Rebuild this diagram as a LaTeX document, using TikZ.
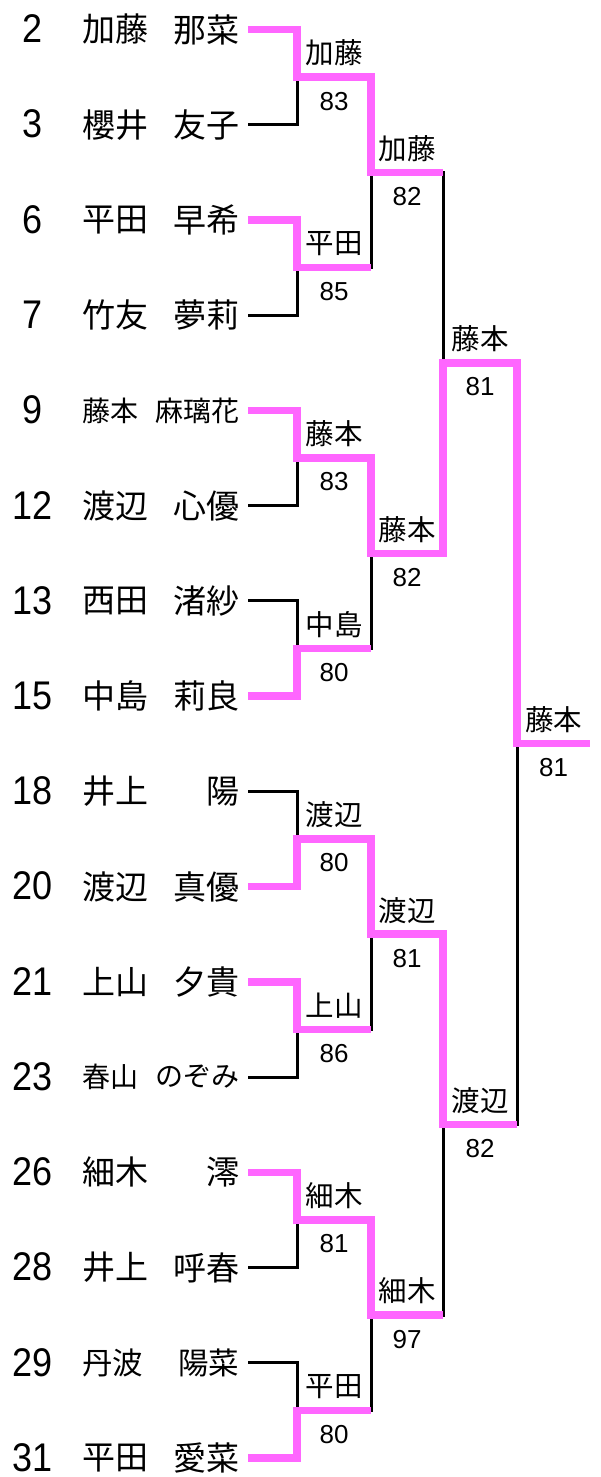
\documentclass[tikz,border=0pt]{standalone}
\usepackage{fontspec}
\setmainfont{Liberation Sans}
\newfontfamily\jpfont{Noto Sans CJK JP}
\definecolor{winpink}{RGB}{255,102,255}

\begin{document}
\begin{tikzpicture}
  [x=1pt,y=-1pt,
   num/.style={font=\fontsize{40}{40}\selectfont,inner sep=0},
   nm/.style={font=\jpfont\fontsize{33}{33}\selectfont,inner sep=0},
   sm/.style={font=\jpfont\fontsize{28}{28}\selectfont,inner sep=0},
   md/.style={font=\jpfont\fontsize{30.5}{30.5}\selectfont,inner sep=0},
   win/.style={font=\jpfont\fontsize{28.5}{28.5}\selectfont,inner sep=0},
   score/.style={font=\fontsize{26}{26}\selectfont,inner sep=0},
   lose/.style={line width=3pt,black},
   wins/.style={line width=7.5pt,winpink,line join=miter}]
  \useasboundingbox (0,0) rectangle (600,1477);
  % players
  \foreach \no/\sei/\mei/\st [count=\i] in {2/加藤/那菜/nm, 3/櫻井/友子/nm,
      6/平田/早希/nm, 7/竹友/夢莉/nm, 9/藤本/麻璃花/sm, 12/渡辺/心優/nm,
      13/西田/渚紗/nm, 15/中島/莉良/nm, 18/井上/陽/nm, 20/渡辺/真優/nm,
      21/上山/夕貴/nm, 23/春山/のぞみ/sm, 26/細木/澪/nm, 28/井上/呼春/nm,
      29/丹波/陽菜/md, 31/平田/愛菜/nm}{
    \pgfmathsetmacro\y{29.5+95.23*(\i-1)}
    \coordinate (p\i) at (248,\y);
    \node[num] (no\i) at (33,\y-0.5) {\scalebox{0.9}[1]{\no}};
    \node[\st,anchor=west] (sei\i) at (82,\y) {\sei};
    \node[\st,anchor=east] (mei\i) at (239.5,\y) {\mei};
  }
  % match points
  \foreach \m in {1,...,8} \coordinate (a\m) at (297,{29.5+95.23*(2*\m-1.5)});
  \foreach \m in {1,...,4} \coordinate (b\m) at (371,{29.5+95.23*(4*\m-2.5)});
  \foreach \m in {1,2} \coordinate (c\m) at (443,{29.5+95.23*(8*\m-4.5)});
  \coordinate (f) at (517,{29.5+95.23*7.5});
  \coordinate (champ) at (590,{29.5+95.23*7.5});
  % tree
  \foreach \i [evaluate=\i as \m using {int((\i+1)/2)}] in {1,...,16}
    \draw[lose] (p\i) -| (a\m);
  \foreach \m [evaluate=\m as \n using {int((\m+1)/2)}] in {1,...,8}
    \draw[lose] (a\m) -| (b\n);
  \foreach \n [evaluate=\n as \j using {int((\n+1)/2)}] in {1,...,4}
    \draw[lose] (b\n) -| (c\j);
  \draw[lose] (c1) -| (f) (c2) -| (f);
  % winners
  \draw[wins] (p1) -| (a1) -| (b1) -- (b1 -| c1);
  \draw[wins] (p3) -| (a2) -- (a2 -| b1);
  \draw[wins] (p5) -| (a3) -| (b2) -| (c1) -| (f) -- (champ);
  \draw[wins] (p8) -| (a4) -- (a4 -| b2);
  \draw[wins] (p10) -| (a5) -| (b3) -| (c2) -- (c2 -| f);
  \draw[wins] (p11) -| (a6) -- (a6 -| b3);
  \draw[wins] (p13) -| (a7) -| (b4) -- (b4 -| c2);
  \draw[wins] (p16) -| (a8) -- (a8 -| b4);
  % results
  \foreach \m/\w/\s in {1/加藤/83, 2/平田/85, 3/藤本/83, 4/中島/80,
      5/渡辺/80, 6/上山/86, 7/細木/81, 8/平田/80}{
    \node[win] (wa\m) at ([shift={(37pt,24pt)}]a\m) {\w};
    \node[score] (sa\m) at ([shift={(37pt,-24pt)}]a\m) {\s};
  }
  \foreach \m/\w/\s in {1/加藤/82, 2/藤本/82, 3/渡辺/81, 4/細木/97}{
    \node[win] (wb\m) at ([shift={(36pt,24pt)}]b\m) {\w};
    \node[score] (sb\m) at ([shift={(36pt,-24pt)}]b\m) {\s};
  }
  \foreach \m/\w/\s in {1/藤本/81, 2/渡辺/82}{
    \node[win] (wc\m) at ([shift={(37pt,24pt)}]c\m) {\w};
    \node[score] (sc\m) at ([shift={(37pt,-24pt)}]c\m) {\s};
  }
  \node[win] (wf) at ([shift={(36.5pt,24pt)}]f) {藤本};
  \node[score] (sf) at ([shift={(36.5pt,-24pt)}]f) {81};
\end{tikzpicture}
\end{document}
